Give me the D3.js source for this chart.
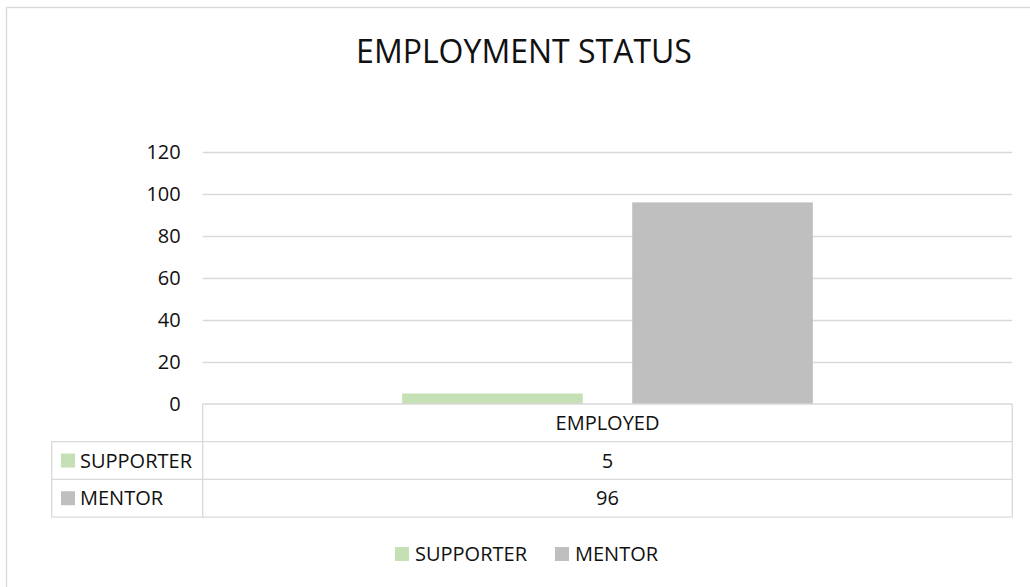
<!DOCTYPE html>
<html>
<head>
<meta charset="utf-8">
<script src="https://cdn.jsdelivr.net/npm/d3@7"></script>
<style>
    body { margin: 0; background: #fff; }
    svg { display: block; font-family: "Open Sans", sans-serif; }
</style>
</head>
<body>
<div id="chart"></div>
<script>
const title = "EMPLOYMENT STATUS";
const categories = ["EMPLOYED"];
const series_names = ["SUPPORTER", "MENTOR"];
const supporter_values = [5];
const mentor_values = [96];
const y_ticks = [0, 20, 40, 60, 80, 100, 120];
const series_colors = ["#c5e0b4", "#bfbfbf"];

const series = [
    { name: series_names[0], values: supporter_values, color: series_colors[0] },
    { name: series_names[1], values: mentor_values, color: series_colors[1] }
];

const W = 1030, H = 587;
const plot = { left: 202.7, right: 1012.3, top: 152, bottom: 404 };
const row_h = 37.7;
const table_left = 51.7;
const grid_color = "#d9d9d9";
const text_color = "#111";

const svg = d3.select("#chart")
    .append("svg")
    .attr("width", W)
    .attr("height", H);

// outer chart border
svg.append("rect")
    .attr("x", 6.5)
    .attr("y", 7.5)
    .attr("width", W)
    .attr("height", H)
    .attr("fill", "#fff")
    .attr("stroke", grid_color)
    .attr("stroke-width", 1.3);

svg.append("text")
    .attr("x", 524)
    .attr("y", 63)
    .attr("text-anchor", "middle")
    .style("font-size", "32px")
    .style("fill", text_color)
    .text(title);

const y = d3.scaleLinear()
    .domain([0, 120])
    .range([plot.bottom, plot.top]);

const x0 = d3.scaleBand()
    .domain(categories)
    .range([plot.left, plot.right])
    .paddingOuter(0.4856);

const x1 = d3.scaleBand()
    .domain(series_names)
    .range([0, x0.bandwidth()])
    .paddingInner(0.215)
    .paddingOuter(0);

// gridlines
svg.append("g")
    .attr("transform", `translate(${plot.left},0)`)
    .call(d3.axisLeft(y)
        .tickValues(y_ticks.filter(d => d > 0))
        .tickSize(-(plot.right - plot.left))
        .tickFormat(""))
    .call(g => g.select(".domain").remove())
    .call(g => g.selectAll("line").attr("stroke", grid_color).attr("stroke-width", 1.3));

// y tick labels
svg.append("g")
    .attr("transform", `translate(${plot.left},0)`)
    .call(d3.axisLeft(y).tickValues(y_ticks).tickSize(0).tickPadding(22))
    .call(g => g.select(".domain").remove())
    .call(g => g.selectAll("text")
        .style("font-size", "20px")
        .style("font-family", "Open Sans, sans-serif")
        .attr("fill", text_color));

// bars
const groups = svg.append("g")
    .selectAll("g")
    .data(categories)
    .enter().append("g")
    .attr("transform", d => `translate(${x0(d)},0)`);

groups.selectAll("rect")
    .data((d, i) => series.map(s => ({ name: s.name, value: s.values[i], color: s.color })))
    .enter().append("rect")
    .attr("x", d => x1(d.name))
    .attr("y", d => y(d.value))
    .attr("width", x1.bandwidth())
    .attr("height", d => y(0) - y(d.value))
    .attr("fill", d => d.color);

// data table
const table = svg.append("g");
const line_style = sel => sel.attr("stroke", grid_color).attr("stroke-width", 1.3);

table.append("line")
    .attr("x1", plot.left).attr("x2", plot.right)
    .attr("y1", y(0)).attr("y2", y(0))
    .call(line_style);

series.forEach((s, i) => {
    const yy = y(0) + row_h * (i + 1);
    table.append("line")
        .attr("x1", table_left).attr("x2", plot.right)
        .attr("y1", yy).attr("y2", yy)
        .call(line_style);
});
const table_bottom = y(0) + row_h * (series.length + 1);
table.append("line")
    .attr("x1", table_left).attr("x2", plot.right)
    .attr("y1", table_bottom).attr("y2", table_bottom)
    .call(line_style);
table.append("line")
    .attr("x1", table_left).attr("x2", table_left)
    .attr("y1", y(0) + row_h).attr("y2", table_bottom)
    .call(line_style);
[plot.left, plot.right].forEach(xx => {
    table.append("line")
        .attr("x1", xx).attr("x2", xx)
        .attr("y1", y(0)).attr("y2", table_bottom)
        .call(line_style);
});

// header
categories.forEach(c => {
    table.append("text")
        .attr("x", x0(c) + x0.bandwidth() / 2)
        .attr("y", y(0) + row_h / 2)
        .attr("dy", "0.35em")
        .attr("text-anchor", "middle")
        .style("font-size", "20px")
        .style("fill", text_color)
        .text(c);
});

series.forEach((s, i) => {
    const cy = y(0) + row_h * (i + 1.5);
    table.append("rect")
        .attr("x", 61)
        .attr("y", cy - 7)
        .attr("width", 14)
        .attr("height", 14)
        .attr("fill", s.color);
    table.append("text")
        .attr("x", 80)
        .attr("y", cy)
        .attr("dy", "0.35em")
        .style("font-size", "20px")
        .style("fill", text_color)
        .text(s.name);
    categories.forEach((c, j) => {
        table.append("text")
            .attr("x", x0(c) + x0.bandwidth() / 2)
            .attr("y", cy)
            .attr("dy", "0.35em")
            .attr("text-anchor", "middle")
            .style("font-size", "20px")
            .style("fill", text_color)
            .text(s.values[j]);
    });
});

// legend
const legend_pos = [395, 555];
const legend = svg.append("g");
series.forEach((s, i) => {
    legend.append("rect")
        .attr("x", legend_pos[i])
        .attr("y", 547)
        .attr("width", 14)
        .attr("height", 14)
        .attr("fill", s.color);
    legend.append("text")
        .attr("x", legend_pos[i] + 20)
        .attr("y", 554)
        .attr("dy", "0.35em")
        .style("font-size", "20px")
        .style("fill", text_color)
        .text(s.name);
});
</script>
</body>
</html>
